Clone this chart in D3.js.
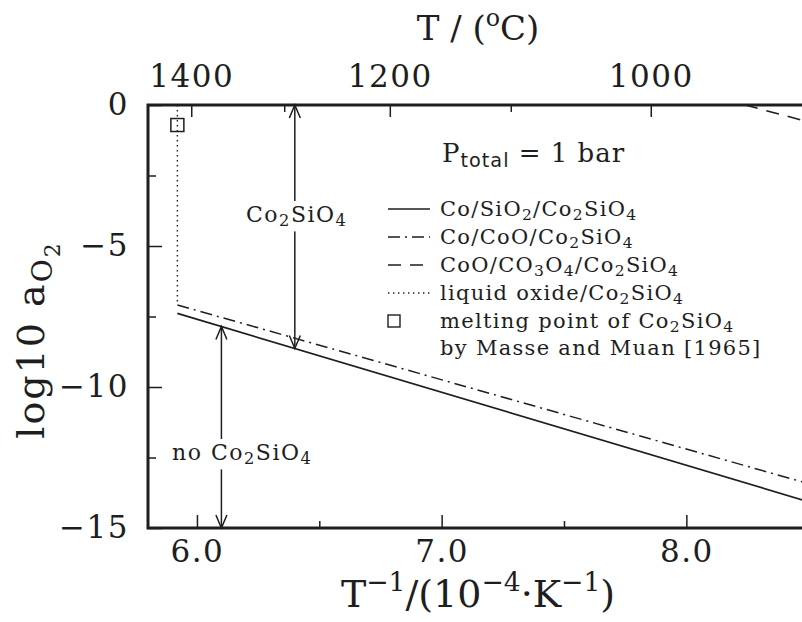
<!DOCTYPE html>
<html>
<head>
<meta charset="utf-8">
<script src="https://cdn.jsdelivr.net/npm/d3@7"></script>
<style>
  html, body { margin: 0; padding: 0; background: #fff; }
  svg { display: block; }
  text { font-family: "DejaVu Serif", "Liberation Serif", serif; fill: #1e1e1e; }
</style>
</head>
<body>
<svg id="chart" width="802" height="622"></svg>
<script>
// Inverse temperature axis (10^-4 K^-1) and oxygen activity axis (log10)
const xDomain = [5.8, 8.5];
const yDomain = [0, -15];
const xMajorTicks = [6.0, 7.0, 8.0];
const xMinorTicks = [6.5, 7.5];
const yMajorTicks = [0, -5, -10, -15];
const yMinorTicks = [-2.5, -7.5, -12.5];
const celsiusMajor = [1400, 1200, 1000];
const celsiusMinor = [1300, 1100, 900];

// Phase boundaries: x = 1/T (10^-4 K^-1), y = log10 a(O2)
const coSiO2X = [5.92, 8.5];
const coSiO2Y = [-7.39, -14.07];
const coCoOX = [5.92, 8.5];
const coCoOY = [-7.09, -13.43];
const coOCo3O4X = [8.24, 8.5];
const coOCo3O4Y = [0, -0.6];
const liquidX = [5.92, 5.92];
const liquidY = [0, -7.09];
// Melting point of Co2SiO4 (Masse and Muan, 1965)
const meltX = [5.92];
const meltY = [-0.71];
// Stability-field arrows (x positions)
const stableArrowX = 6.4;
const unstableArrowX = 6.1;

const svg = d3.select("#chart");
const plotL = 148, plotT = 105, plotB = 528, plotR = 808.7;

const x = d3.scaleLinear().domain(xDomain).range([plotL, plotR]);
const y = d3.scaleLinear().domain(yDomain).range([plotT, plotB]);
const toInvT = c => 1e4 / (c + 273.15);

// rich text helper: parts = [text, level, family?]; level 0 normal, -1 sub, 1 sup, -2 sub-sub
function rich(sel, parts, size) {
  const scale = { "0": 1, "-1": 0.74, "1": 0.7, "-2": 0.58 };
  const offs = { "0": 0, "-1": 0.2 * size, "1": -0.42 * size, "-2": 0.42 * size };
  let cur = 0;
  parts.forEach(([t, lvl, fam]) => {
    const o = offs[lvl];
    const ts = sel.append("tspan").attr("dy", o - cur).attr("font-size", size * scale[lvl]).text(t);
    if (fam) ts.style("font-family", fam);
    cur = o;
  });
  return sel;
}

// clip for the data marks
svg.append("defs").append("clipPath").attr("id", "plotClip")
  .append("rect").attr("x", plotL).attr("y", plotT).attr("width", plotR - plotL).attr("height", plotB - plotT);

const plot = svg.append("g").attr("clip-path", "url(#plotClip)");
const line = d3.line().x(d => x(d[0])).y(d => y(d[1]));
const pts = (xs, ys) => xs.map((v, i) => [v, ys[i]]);

plot.append("path").datum(pts(coSiO2X, coSiO2Y)).attr("d", line)
  .attr("fill", "none").attr("stroke", "#1e1e1e").attr("stroke-width", 1.7);
plot.append("path").datum(pts(coCoOX, coCoOY)).attr("d", line)
  .attr("fill", "none").attr("stroke", "#1e1e1e").attr("stroke-width", 1.5)
  .attr("stroke-dasharray", "12,5,2,5");
plot.append("path").datum(pts(coOCo3O4X, coOCo3O4Y)).attr("d", line)
  .attr("fill", "none").attr("stroke", "#1e1e1e").attr("stroke-width", 1.6)
  .attr("stroke-dasharray", "13,9");
plot.append("path").datum(pts(liquidX, liquidY)).attr("d", line)
  .attr("fill", "none").attr("stroke", "#1e1e1e").attr("stroke-width", 1.4)
  .attr("stroke-dasharray", "1.4,3.6");
plot.selectAll("rect.melt").data(pts(meltX, meltY)).join("rect").attr("class", "melt")
  .attr("x", d => x(d[0]) - 6.5).attr("y", d => y(d[1]) - 6.5)
  .attr("width", 13).attr("height", 13)
  .attr("fill", "none").attr("stroke", "#1e1e1e").attr("stroke-width", 1.5);

// double-headed arrows
const boundaryAt = d3.scaleLinear().domain(coSiO2X).range(coSiO2Y);
function arrow(xv, y1v, y2v) {
  const px = x(xv), a = y(y1v), b = y(y2v);
  const hw = 5.5, hl = 13;
  const g = svg.append("g").attr("fill", "none").attr("stroke", "#1e1e1e").attr("stroke-width", 1.5);
  g.append("path").attr("d", `M${px},${a}L${px},${b}`);
  g.append("path").attr("d", `M${px - hw},${a + hl}L${px},${a}L${px + hw},${a + hl}`);
  g.append("path").attr("d", `M${px - hw},${b - hl}L${px},${b}L${px + hw},${b - hl}`);
}
arrow(stableArrowX, 0, boundaryAt(stableArrowX));
arrow(unstableArrowX, boundaryAt(unstableArrowX), -15);

function label(px, py, parts, size) {
  const g = svg.append("g");
  const t = g.append("text").attr("x", px).attr("y", py).attr("font-size", size)
    .style("letter-spacing", "1.5px");
  rich(t, parts, size);
  const bb = t.node().getBBox();
  g.insert("rect", "text").attr("x", bb.x - 2).attr("y", bb.y - 1)
    .attr("width", bb.width + 4).attr("height", bb.height + 2).attr("fill", "#fff");
}
label(246, 222, [["Co", 0], ["2", -1], ["SiO", 0], ["4", -1]], 22);
label(172, 460, [["no Co", 0], ["2", -1], ["SiO", 0], ["4", -1]], 22);

// axes
const axisStyle = g => {
  g.select(".domain").remove();
  g.selectAll(".tick line").attr("stroke", "#1e1e1e").attr("stroke-width", 1.5);
  g.selectAll(".tick text").attr("font-size", 31).attr("fill", "#1e1e1e")
    .style("font-family", "DejaVu Serif").style("letter-spacing", "1.5px");
};
svg.append("g").attr("transform", `translate(0,${plotB})`)
  .call(d3.axisBottom(x).tickValues(xMajorTicks).tickSize(-13).tickPadding(12).tickFormat(d3.format(".1f")))
  .call(axisStyle);
svg.append("g").attr("transform", `translate(0,${plotB})`)
  .call(d3.axisBottom(x).tickValues(xMinorTicks).tickSize(-7).tickFormat(""))
  .call(axisStyle);
svg.append("g").attr("transform", `translate(${plotL},0)`)
  .call(d3.axisLeft(y).tickValues(yMajorTicks).tickSize(-14).tickPadding(19).tickFormat(d3.format("d")))
  .call(axisStyle);
svg.append("g").attr("transform", `translate(${plotL},0)`)
  .call(d3.axisLeft(y).tickValues(yMinorTicks).tickSize(-8).tickFormat(""))
  .call(axisStyle);
svg.append("g").attr("transform", `translate(0,${plotT})`)
  .call(d3.axisTop(x).tickValues(celsiusMajor.map(toInvT)).tickSize(-12).tickPadding(18)
    .tickFormat((d, i) => celsiusMajor[i]))
  .call(axisStyle);
svg.append("g").attr("transform", `translate(0,${plotT})`)
  .call(d3.axisTop(x).tickValues(celsiusMinor.map(toInvT)).tickSize(-7).tickFormat(""))
  .call(axisStyle);

// frame
svg.append("rect").attr("x", plotL).attr("y", plotT).attr("width", plotR - plotL).attr("height", plotB - plotT)
  .attr("fill", "none").attr("stroke", "#1e1e1e").attr("stroke-width", 3);

// axis titles
rich(svg.append("text").attr("x", 478).attr("y", 607).attr("text-anchor", "middle").attr("font-size", 38),
  [["T", 0], ["−1", 1], ["/(10", 0], ["−4", 1], ["·K", 0], ["−1", 1], [")", 0]], 38);
rich(svg.append("text").attr("x", 478).attr("y", 40).attr("text-anchor", "middle").attr("font-size", 34),
  [["T / (", 0], ["o", 1], ["C)", 0]], 34);
rich(svg.append("text").attr("transform", "translate(44,340) rotate(-90)").attr("text-anchor", "middle")
  .attr("font-size", 38).style("letter-spacing", "2px"),
  [["log10 a", 0], ["O", -1], ["2", -2]], 38);

// pressure note
rich(svg.append("text").attr("x", 442).attr("y", 162).attr("font-size", 26).style("letter-spacing", "1px"),
  [["P", 0], ["total", -1, "DejaVu Sans"], [" = 1 bar", 0]], 26);

// legend
const legendLabels = [
  [["Co/SiO", 0], ["2", -1], ["/Co", 0], ["2", -1], ["SiO", 0], ["4", -1]],
  [["Co/CoO/Co", 0], ["2", -1], ["SiO", 0], ["4", -1]],
  [["CoO/CO", 0], ["3", -1], ["O", 0], ["4", -1], ["/Co", 0], ["2", -1], ["SiO", 0], ["4", -1]],
  [["liquid oxide/Co", 0], ["2", -1], ["SiO", 0], ["4", -1]],
  [["melting point of Co", 0], ["2", -1], ["SiO", 0], ["4", -1]],
  [["by Masse and Muan [1965]", 0]]
];
const legendDash = ["none", "12,5,2,5", "13,9", "1.4,3.6", null, null];
const legendBase = [216, 244, 272, 300, 328, 355];
legendLabels.forEach((parts, i) => {
  const t = svg.append("text").attr("x", 440).attr("y", legendBase[i]).attr("font-size", 21)
    .style("letter-spacing", "1.3px");
  rich(t, parts, 21);
  const cy = legendBase[i] - 7;
  if (legendDash[i] !== null) {
    svg.append("line").attr("x1", 388).attr("x2", 430).attr("y1", cy).attr("y2", cy)
      .attr("stroke", "#1e1e1e").attr("stroke-width", 1.5)
      .attr("stroke-dasharray", legendDash[i]);
  } else if (i === 4) {
    svg.append("rect").attr("x", 388).attr("y", cy - 6).attr("width", 12).attr("height", 12)
      .attr("fill", "none").attr("stroke", "#1e1e1e").attr("stroke-width", 1.4);
  }
});
</script>
</body>
</html>
